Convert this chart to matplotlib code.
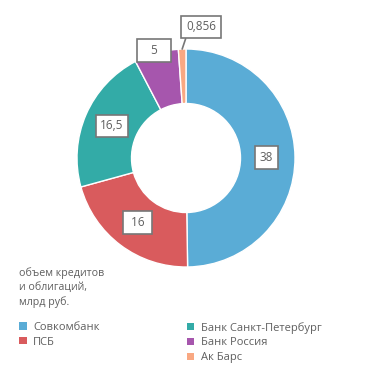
import numpy as np
import matplotlib
matplotlib.use('Agg')
import matplotlib.pyplot as plt
from matplotlib.patches import Patch

# Data
banks = ['Совкомбанк', 'ПСБ', 'Банк Санкт-Петербург', 'Банк Россия', 'Ак Барс']
values = [38, 16, 16.5, 5, 0.856]
value_labels = ['38', '16', '16,5', '5', '0,856']
colors = ['#5aacd6', '#d95b5d', '#33aba7', '#a656ad', '#f9a882']
title_text = 'объем кредитов\nи облигаций,\nмлрд руб.'

plt.rcParams['font.family'] = ['Open Sans', 'DejaVu Sans']
text_color = '#5f5f5f'

fig = plt.figure(figsize=(3.71, 3.75), dpi=100)
ax = fig.add_axes([0.1341, 0.2153, 0.7345, 0.7267])

wedges, _ = ax.pie(values, colors=colors, startangle=90, counterclock=False,
                   radius=1, wedgeprops=dict(width=0.5, edgecolor='white', linewidth=1))
ax.set_xlim(-1.25, 1.25)
ax.set_ylim(-1.25, 1.25)
ax.set_aspect('equal')
ax.axis('off')

box = dict(boxstyle='square,pad=0.4', fc='white', ec='#777777', lw=1.2)

# label placement: radius, angle shift, extra side spaces
label_r = [0.74, 0.74, 0.74, 1.03, 1.21]
label_shift = [0, 0, 0, 0.7, -8.5]
side_pad = [0, 1, 0, 3, 0]
for w, lab, r, sh, sp in zip(wedges, value_labels, label_r, label_shift, side_pad):
    mid = (w.theta1 + w.theta2) / 2
    a = np.deg2rad(mid + sh)
    x, y = r * np.cos(a), r * np.sin(a)
    s = ' ' * sp + lab + ' ' * sp
    if r > 1.15:
        t = np.deg2rad(mid)
        ax.annotate(s, xy=(np.cos(t), np.sin(t)), xytext=(x, y),
                    ha='center', va='center', fontsize=8.5, color=text_color, bbox=box,
                    arrowprops=dict(arrowstyle='-', color='#777777', lw=1.2, shrinkA=0, shrinkB=0,
                                    relpos=(0.05, 0)), annotation_clip=False)
    else:
        ax.text(x, y, s, ha='center', va='center', fontsize=8.5, color=text_color, bbox=box)

fig.text(0.052, 0.287, title_text, ha='left', va='top', fontsize=7.7, color=text_color,
         linespacing=1.35)

handles = [Patch(facecolor=c, edgecolor='none') for c in colors]
leg_kw = dict(loc='upper left', frameon=False, fontsize=8, handlelength=0.65, handleheight=0.65,
              handletextpad=0.6, labelspacing=0.35, labelcolor=text_color, borderpad=0,
              borderaxespad=0)
fig.legend(handles[:2], banks[:2], bbox_to_anchor=(0.052, 0.142), **leg_kw)
fig.legend(handles[2:], banks[2:], bbox_to_anchor=(0.503, 0.142), **leg_kw)

fig.savefig('out.png', dpi=100)
